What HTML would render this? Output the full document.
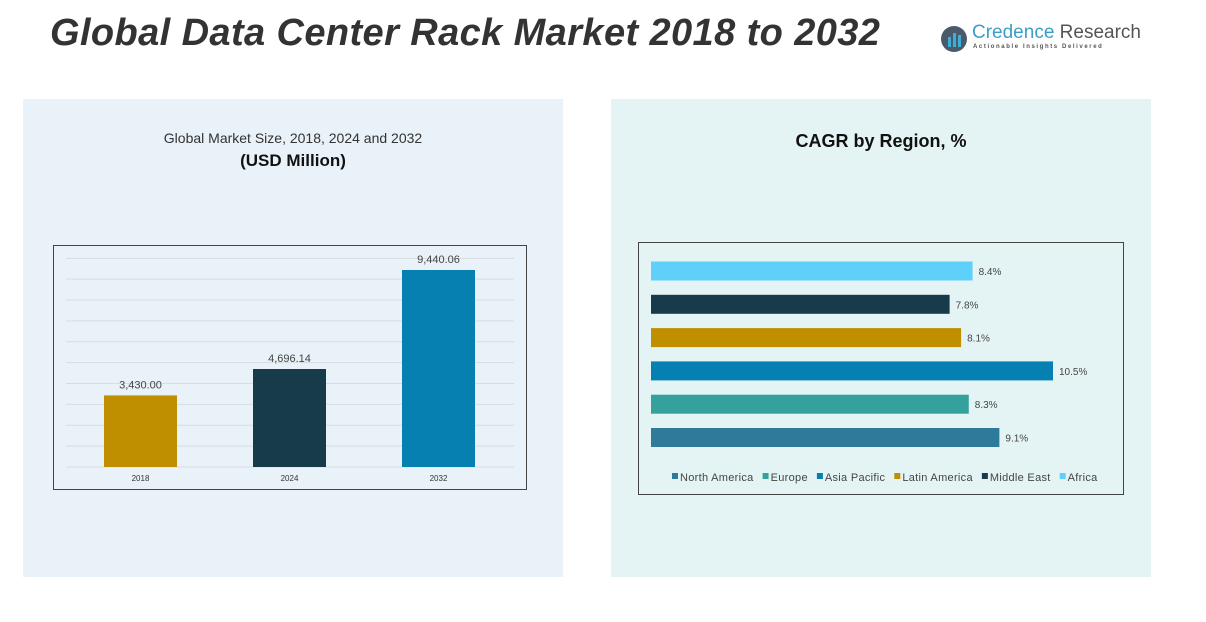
<!DOCTYPE html>
<html><head><meta charset="utf-8"><style>
body{margin:0;width:1206px;height:622px;background:#fff;position:relative;overflow:hidden;font-family:"Liberation Sans",sans-serif}
.abs{position:absolute}
</style></head><body>
<div class="abs" style="left:50px;top:12px;font-size:38px;font-weight:bold;font-style:italic;color:#333;letter-spacing:0.4px">Global Data Center Rack Market 2018 to 2032</div>
<div class="abs" style="left:940px;top:24px;width:190px;height:32px">
 <svg width="30" height="30" style="position:absolute;left:0;top:0"><circle cx="14" cy="15" r="13" fill="#4a5a6a"/><rect x="8" y="13" width="3" height="10" fill="#3ab0d8"/><rect x="13" y="9" width="3" height="14" fill="#3ab0d8"/><rect x="18" y="11" width="3" height="12" fill="#3ab0d8"/></svg>
 <div class="abs" style="left:32px;top:-2px;font-size:19px;color:#3a9fc8;white-space:nowrap">Credence <span style="color:#555">Research</span></div>
 <div class="abs" style="left:33px;top:20px;font-size:6px;letter-spacing:1.6px;color:#555;white-space:nowrap;font-weight:bold">Actionable Insights Delivered</div>
</div>
<div class="abs" style="left:23px;top:99px;width:540px;height:478px;background:#e9f2f8"></div>
<div class="abs" style="left:611px;top:99px;width:540px;height:478px;background:#e4f4f5"></div>
<div class="abs" style="left:23px;top:130px;width:540px;text-align:center;font-size:14px;color:#333">Global Market Size, 2018, 2024 and 2032</div>
<div class="abs" style="left:23px;top:151px;width:540px;text-align:center;font-size:17px;font-weight:bold;color:#111">(USD Million)</div>
<div class="abs" style="left:611px;top:131px;width:540px;text-align:center;font-size:18px;font-weight:bold;color:#111">CAGR by Region, %</div>
<svg class="abs" style="left:0;top:0" width="1206" height="622" id="svg">
<rect x="53.5" y="245.5" width="473" height="244" fill="none" stroke="#444"/>
<rect x="638.5" y="242.5" width="485" height="252" fill="none" stroke="#444"/>
<g id="left"></g><g id="right"></g>
</svg>
<script>
const years=["2018","2024","2032"];
const sizes=[3430.00,4696.14,9440.06];
const sizeLabels=["3,430.00","4,696.14","9,440.06"];
const sizeColors=["#bf8f00","#173b4a","#0580b0"];
const regions=["North America","Europe","Asia Pacific","Latin America","Middle East","Africa"];
const cagr=[9.1,8.3,10.5,8.1,7.8,8.4];
const regionColors=["#2e7a9b","#35a19d","#0580b0","#bf8f00","#173b4a","#5fd0fa"];
const NS="http://www.w3.org/2000/svg";
function mk(tag,attrs,parent,text){const e=document.createElementNS(NS,tag);for(const k in attrs)e.setAttribute(k,attrs[k]);if(text!==undefined)e.textContent=text;parent.appendChild(e);return e;}
const L=document.getElementById('left');
const yBase=467,yScale=v=>yBase-v*197/9440;
for(let i=0;i<=10;i++){const y=yScale(i*1000);const g=mk('line',{x1:66,x2:514,y1:y,y2:y,stroke:'#d6dde2','stroke-width':1},L);

}
years.forEach((yr,i)=>{const cx=140.5+i*149;const top=yScale(sizes[i]);
const b=mk('rect',{x:cx-36.5,y:top,width:73,height:yBase-top,fill:sizeColors[i]},L);


const t=mk('text',{x:cx,y:top-7,'text-anchor':'middle','font-size':11,fill:'#444'},L,sizeLabels[i]);


const x=mk('text',{x:cx,y:481,'text-anchor':'middle','font-size':8,fill:'#333'},L,yr);

});
const R=document.getElementById('right');
const xScale=v=>651+v*402/10.5;
regions.forEach((r,i)=>{const cy=437.5-i*33.3;
const b=mk('rect',{x:651,y:cy-9.5,width:xScale(cagr[i])-651,height:19,fill:regionColors[i]},R);


const t=mk('text',{x:xScale(cagr[i])+6,y:cy+4,'font-size':10,fill:'#444'},R,cagr[i].toFixed(1)+'%');

});
let lx=672;
regions.forEach((r,i)=>{
const s=mk('rect',{x:lx,y:473,width:6,height:6,fill:regionColors[i]},R);


const t=mk('text',{x:lx+8,y:481,'font-size':11,fill:'#444','letter-spacing':'0.3'},R,r);


lx+=8+t.getComputedTextLength()+9;});
</script>
</body></html>
